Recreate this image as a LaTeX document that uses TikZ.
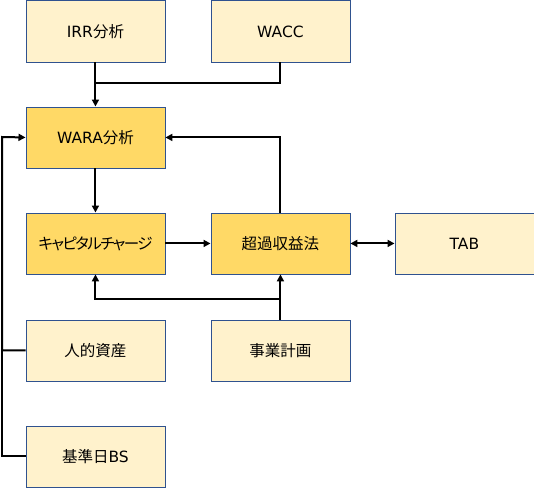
\documentclass[tikz,border=0pt]{standalone}
\usepackage{fontspec}
\setmainfont{Noto Sans CJK JP}
\newfontfamily\kanapalt[RawFeature=+palt,LetterSpace=-10]{Noto Sans CJK JP}
\newfontfamily\latinpart{DejaVu Sans}
\usetikzlibrary{arrows.meta,positioning}
\definecolor{flowLight}{HTML}{FFF2CC}
\definecolor{flowDark}{HTML}{FFD966}
\definecolor{flowEdge}{HTML}{2F528F}
\definecolor{flowInk}{HTML}{000000}
\newcommand{\lat}[1]{{\latinpart #1}}
\tikzset{
  every picture/.style={font=\fontsize{15.5}{18}\selectfont, text=flowInk},
  flow box/.style={draw=flowEdge, line width=0.9pt, fill=flowLight,
    minimum width=139pt, minimum height=61pt, inner sep=0pt, anchor=north west},
  flow key/.style={flow box, fill=flowDark},
  flow line/.style={draw=flowInk, line width=2pt},
  flow arrow/.style={flow line, -{Triangle[length=7pt,width=7pt]}}
}

\begin{document}
\begin{tikzpicture}[x=1pt,y=-1pt]
  \useasboundingbox (0,0) rectangle (534,487);
  \node[flow box] (irr) at (25.5,0.5) {\lat{IRR}分析};
  \node[flow box] (wacc) at (210.5,0.5) {\lat{WACC}};
  \node[flow key] (wara) at (25.5,106.5) {\lat{WARA}分析};
  \node[flow key] (cap) at (25.5,212.5) {\kanapalt キャピタルチャージ};
  \node[flow key] (excess) at (210.5,212.5) {超過収益法};
  \node[flow box] (tab) at (394.5,212.5) {\lat{TAB}};
  \node[flow box] (human) at (25.5,319.5) {人的資産};
  \node[flow box] (plan) at (210.5,319.5) {事業計画};
  \node[flow box] (bs) at (25.5,425.5) {基準日\lat{BS}};
  \coordinate (topjoin) at (95,83);
  \coordinate (planjoin) at (279.8,299);
  \coordinate (leftbus) at (2,137);
  % inputs into WARA
  \draw[flow arrow] (irr.south) -- (wara.north);
  \draw[flow line] (wacc.south) |- (topjoin);
  \draw[flow arrow] (excess.north) |- (wara.east);
  \draw[flow arrow] (human.west) -| (leftbus) -- (wara.west);
  \draw[flow line] (bs.west) -| (leftbus);
  % capital charge and excess earnings
  \draw[flow arrow] (wara.south) -- (cap.north);
  \draw[flow arrow] (cap.east) -- (excess.west);
  \draw[flow line, {Triangle[length=7pt,width=7pt]}-{Triangle[length=7pt,width=7pt]}] (excess.east) -- (tab.west);
  \draw[flow arrow] (plan.north) -- (excess.south);
  \draw[flow arrow] (planjoin) -| (cap.south);
\end{tikzpicture}
\end{document}
